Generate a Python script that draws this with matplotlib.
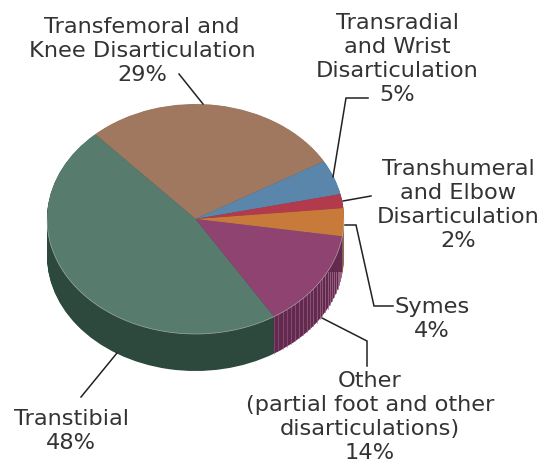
import numpy as np
import matplotlib
matplotlib.use('Agg')
import matplotlib.pyplot as plt

# slices, clockwise from the green/brown edge
names = ['Transfemoral', 'Transradial', 'Transhumeral', 'Symes', 'Other', 'Transtibial']
values = [29, 5, 2, 4, 14, 48]
top_colors = ['#a07860', '#5a86ab', '#b23a4c', '#c87a3a', '#8e4370', '#577b6c']
side_colors = ['#6b5040', '#3c5a73', '#772733', '#8f6d55', '#63294f', '#2d483c']

label_texts = ['Transfemoral and\nKnee Disarticulation\n29%',
               'Transradial\nand Wrist\nDisarticulation\n5%',
               'Transhumeral\nand Elbow\nDisarticulation\n2%',
               'Symes\n4%',
               'Other\n(partial foot and other\ndisarticulations)\n14%',
               'Transtibial\n48%']
label_pos = [(142, 51), (397, 59), (458, 205), (432, 319), (370, 417), (71, 431)]

# pixel layout of the ellipse
W, H = 550, 468
cx, cy, rx, ry = 195.5, 219, 148.5, 115
depth = 37 / ry
start = 132.5

plt.rcParams['font.family'] = ['DejaVu Sans']
fig = plt.figure(figsize=(W / 100, H / 100), dpi=100)
ax = fig.add_axes([0, 0, 1, 1])

# stack of offset pies makes the side wall
for d in np.linspace(depth, 0.004, 40):
    ax.pie(values, colors=side_colors, startangle=start, counterclock=False,
           center=(0, -d), radius=1)

# lighter streaks on the purple wall, stronger towards the right
total = sum(values)
a1 = start - 360 * sum(values[:4]) / total
a2 = start - 360 * sum(values[:5]) / total
streak_angles = np.linspace(a1 - 2, a2, 24)
for i, a in enumerate(streak_angles):
    x = np.cos(np.deg2rad(a))
    y = np.sin(np.deg2rad(a))
    if y < 0:
        top = min(y, -0.46)
        ax.plot([x, x], [y - depth, top], color='#a5728f',
                lw=0.7, alpha=0.85 - 0.45 * i / 23, zorder=5)

ax.pie(values, colors=top_colors, startangle=start, counterclock=False, radius=1,
       wedgeprops={'zorder': 6})
t = np.deg2rad(np.linspace(180, 360, 200))
ax.plot(np.cos(t), np.sin(t), color='#c9c9c9', lw=0.5, alpha=0.7, zorder=7)

ax.set_xlim(-cx / rx, (W - cx) / rx)
ax.set_ylim((cy - H) / ry, cy / ry)
ax.set_aspect('auto')
ax.axis('off')

# overlay in pixels for leaders and labels
ov = fig.add_axes([0, 0, 1, 1])
ov.set_xlim(0, W)
ov.set_ylim(H, 0)
ov.axis('off')
ov.patch.set_alpha(0)

leaders = [[(179, 74), (203, 104)],
           [(368, 98), (346, 98), (333, 177)],
           [(343, 201), (371, 196)],
           [(345, 225), (356, 225), (374, 306), (393, 306)],
           [(322, 318), (367, 341), (367, 366)],
           [(117, 353), (81, 397)]]
for pts in leaders:
    xs, ys = zip(*pts)
    ov.plot(xs, ys, color='#222222', lw=1.1, solid_joinstyle='miter')

for s, (x, y) in zip(label_texts, label_pos):
    ov.text(x, y, s, ha='center', va='center', fontsize=16.2, color='#333333',
            linespacing=1.24)

fig.savefig('out.png', dpi=100)
